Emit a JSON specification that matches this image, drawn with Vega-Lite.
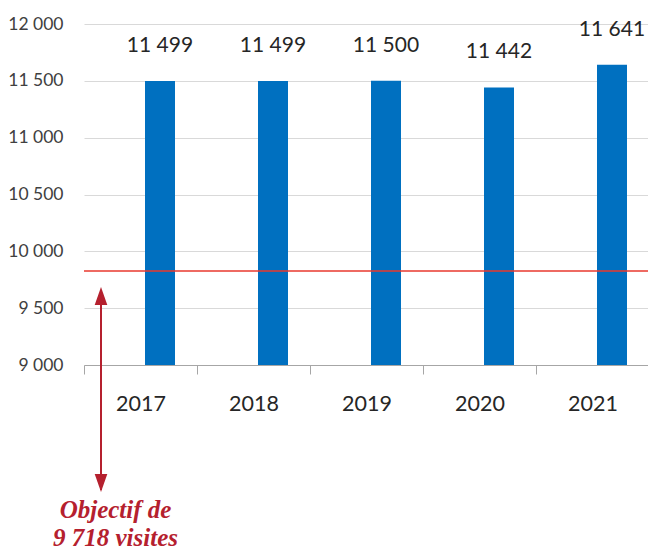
{
  "$schema": "https://vega.github.io/schema/vega-lite/v6.json",
  "width": 565,
  "height": 341,
  "autosize": {"type": "none"},
  "padding": {"left": 84, "top": 24, "right": 0, "bottom": 185},
  "background": "white",
  "config": {
    "view": {"stroke": null},
    "locale": {"number": {"decimal": ",", "thousands": " ", "grouping": [3], "currency": ["", " €"]}},
    "axis": {"labelFont": "Lato, sans-serif", "labelColor": "#404040", "title": null}
  },
  "datasets": {
    "visits": [
      {"year": "2017", "visits": 11499},
      {"year": "2018", "visits": 11499},
      {"year": "2019", "visits": 11500},
      {"year": "2020", "visits": 11442},
      {"year": "2021", "visits": 11641}
    ],
    "target": [{"level": 9827}],
    "arrow": [{"year": "2017", "top": 9660, "bottom": 7900}],
    "heads": [
      {"year": "2017", "at": 9607, "dir": "up"},
      {"year": "2017", "at": 7962, "dir": "down"}
    ],
    "note": [
      {"year": "2017", "at": 7724, "line": "Objectif de"},
      {"year": "2017", "at": 7482, "line": "9 718 visites"}
    ]
  },
  "layer": [
    {
      "data": {"name": "visits"},
      "mark": {"type": "bar", "color": "#0070C0", "size": 30, "xOffset": 19.5},
      "encoding": {
        "x": {
          "field": "year", "type": "nominal",
          "scale": {"domain": ["2017", "2018", "2019", "2020", "2021"], "paddingInner": 0, "paddingOuter": 0},
          "axis": {
            "labelAngle": 0, "labelFontSize": 21.5, "labelColor": "#262626", "labelPadding": 19,
            "tickBand": "extent", "tickSize": 9, "tickColor": "#A6A6A6", "domainColor": "#A6A6A6", "grid": false
          }
        },
        "y": {
          "field": "visits", "type": "quantitative",
          "scale": {"domain": [9000, 12000], "zero": false, "nice": false},
          "axis": {
            "values": [9000, 9500, 10000, 10500, 11000, 11500, 12000], "format": ",d",
            "labelFontSize": 17.5, "labelPadding": 21, "ticks": false, "domain": false,
            "gridColor": "#D9D9D9", "gridWidth": 1
          }
        },
        "y2": {"datum": 9000}
      }
    },
    {
      "data": {"name": "visits"},
      "mark": {"type": "text", "dy": -35, "xOffset": 19.5, "font": "Lato, sans-serif", "fontSize": 21, "color": "#262626", "baseline": "middle"},
      "encoding": {
        "x": {"field": "year", "type": "nominal"},
        "y": {"field": "visits", "type": "quantitative"},
        "text": {"field": "visits", "type": "quantitative", "format": ",d"}
      }
    },
    {
      "data": {"name": "target"},
      "mark": {"type": "rule", "color": "#E8392E", "strokeWidth": 1.5, "xOffset": 13},
      "encoding": {"y": {"field": "level", "type": "quantitative"}}
    },
    {
      "data": {"name": "arrow"},
      "mark": {"type": "rule", "color": "#B5202E", "strokeWidth": 2, "xOffset": -39.5},
      "encoding": {
        "x": {"field": "year", "type": "nominal"},
        "y": {"field": "top", "type": "quantitative"},
        "y2": {"field": "bottom"}
      }
    },
    {
      "data": {"name": "heads"},
      "mark": {"type": "point", "filled": true, "opacity": 1, "color": "#B5202E", "size": 324, "xOffset": -39.5},
      "encoding": {
        "x": {"field": "year", "type": "nominal"},
        "y": {"field": "at", "type": "quantitative"},
        "shape": {
          "field": "dir", "type": "nominal",
          "scale": {"domain": ["up", "down"], "range": ["M-0.7,1L0,-1L0.7,1Z", "M-0.7,-1L0,1L0.7,-1Z"]},
          "legend": null
        }
      }
    },
    {
      "data": {"name": "note"},
      "mark": {"type": "text", "xOffset": -25, "font": "Liberation Serif, serif", "fontSize": 25, "fontWeight": "bold", "fontStyle": "italic", "color": "#B5202E", "baseline": "middle", "align": "center"},
      "encoding": {
        "x": {"field": "year", "type": "nominal"},
        "y": {"field": "at", "type": "quantitative"},
        "text": {"field": "line"}
      }
    }
  ]
}
